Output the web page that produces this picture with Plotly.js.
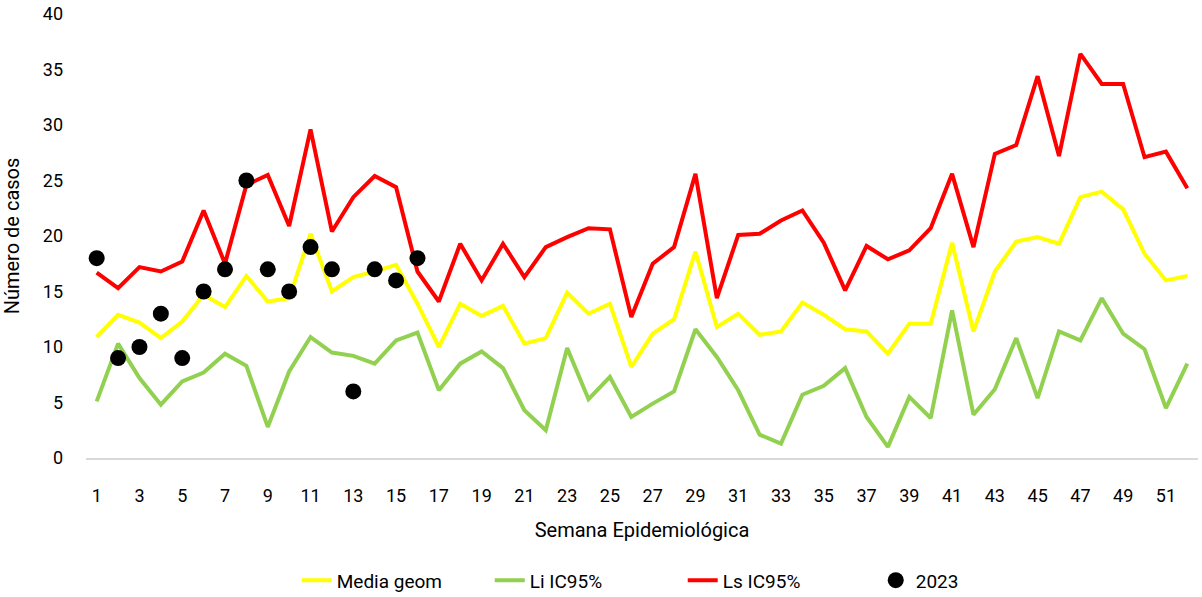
<!DOCTYPE html>
<html><head><meta charset="utf-8">
<script src="https://cdn.plot.ly/plotly-3.0.1.min.js"></script>
<style>html,body{margin:0;padding:0;background:#fff}#c{width:1202px;height:597px}</style>
</head><body><div id="c"></div>
<script>
const weeks = Array.from({length:52},(_,i)=>i+1);
const mediaGeom = [10.9,12.9,12.2,10.8,12.3,14.7,13.6,16.4,14.1,14.4,20.2,15.0,16.3,16.8,17.4,13.9,10.0,13.9,12.8,13.7,10.3,10.8,14.9,13.0,13.9,8.2,11.2,12.5,18.6,11.8,13.0,11.1,11.4,14.0,12.9,11.6,11.4,9.4,12.1,12.1,19.4,11.4,16.8,19.5,19.9,19.3,23.5,24.0,22.4,18.4,16.0,16.4];
const liIC95 = [5.1,10.3,7.2,4.8,6.9,7.7,9.4,8.3,2.8,7.8,10.9,9.5,9.2,8.5,10.6,11.3,6.1,8.5,9.6,8.1,4.3,2.5,9.9,5.3,7.3,3.7,4.9,6.0,11.6,9.1,6.1,2.1,1.3,5.7,6.5,8.1,3.7,1.0,5.5,3.6,13.3,3.9,6.2,10.8,5.4,11.4,10.6,14.4,11.2,9.8,4.5,8.5];
const lsIC95 = [16.7,15.3,17.2,16.8,17.7,22.3,17.5,24.6,25.5,20.9,29.6,20.4,23.5,25.4,24.4,16.8,14.1,19.3,16.0,19.3,16.3,19.0,19.9,20.7,20.6,12.7,17.5,19.0,25.6,14.4,20.1,20.2,21.4,22.3,19.4,15.1,19.1,17.9,18.7,20.7,25.6,19.0,27.4,28.2,34.4,27.2,36.4,33.7,33.7,27.1,27.6,24.3];
const weeks2023 = [1,2,3,4,5,6,7,8,9,10,11,12,13,14,15,16];
const cases2023 = [18,9,10,13,9,15,17,25,17,15,19,17,6,17,16,18];
const tickVals = weeks.filter(w=>w%2===1);

const F = "Roboto, 'Noto Sans', sans-serif";
const data = [
  {x:weeks,y:mediaGeom,type:'scatter',mode:'lines',name:'Media geom',line:{color:'#ffff00',width:4}},
  {x:weeks,y:liIC95,type:'scatter',mode:'lines',name:'Li IC95%',line:{color:'#92d050',width:4}},
  {x:weeks,y:lsIC95,type:'scatter',mode:'lines',name:'Ls IC95%',line:{color:'#ff0000',width:4}},
  {x:weeks2023,y:cases2023,type:'scatter',mode:'markers',name:'2023',marker:{color:'#000000',size:16}}
];
const layout = {
  width:1202,height:597,
  margin:{l:86,r:4,t:14,b:139,autoexpand:false},
  paper_bgcolor:'#fff',plot_bgcolor:'#fff',
  font:{family:F,size:18,color:'#000'},
  showlegend:true,
  legend:{orientation:'h',x:0.568,xanchor:'center',xref:'container',yref:'container',y:0.028,yanchor:'middle',
    font:{family:F,size:19},entrywidth:148,traceorder:'normal'},
  xaxis:{range:[0.5,52.5],tickvals:tickVals,ticktext:tickVals.map(String),showgrid:false,zeroline:false,
    showline:true,linecolor:'#d9d9d9',linewidth:2,ticks:'',tickfont:{family:F,size:18},ticklabelstandoff:20,
    automargin:false,
    title:{text:'Semana Epidemiológica',font:{family:F,size:20},standoff:18}},
  yaxis:{range:[0,40],dtick:5,showgrid:false,zeroline:false,showline:false,ticks:'',tickfont:{family:F,size:18},
    ticklabelstandoff:22,automargin:false,
    title:{text:'Número de casos',font:{family:F,size:20},standoff:18}}
};
Plotly.newPlot('c',data,layout,{displayModeBar:false,staticPlot:true});
</script></body></html>
